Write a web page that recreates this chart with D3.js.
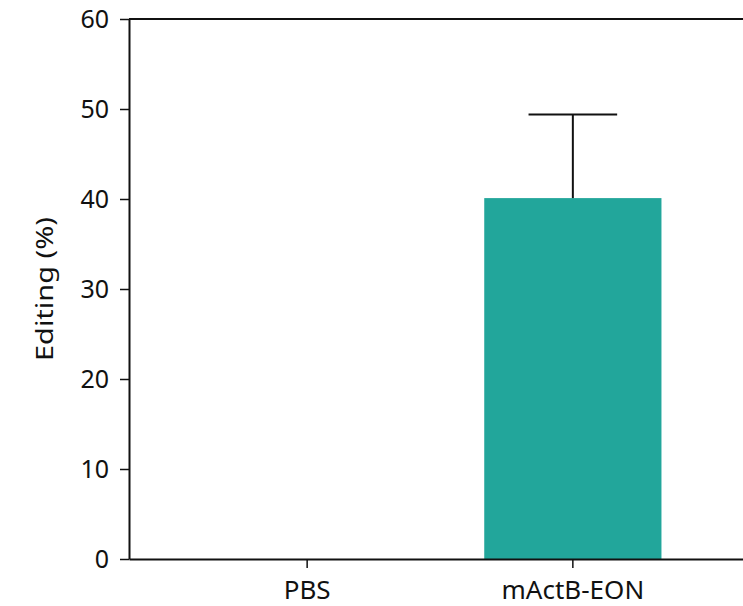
<!DOCTYPE html>
<html>
<head>
<meta charset="utf-8">
<script src="https://cdn.jsdelivr.net/npm/d3@7"></script>
<style>
  body { margin: 0; background: #fff; }
  svg text { font-family: "Noto Sans", "Open Sans", sans-serif; fill: #111; }
</style>
</head>
<body>
<div id="chart"></div>
<script>
var categories = ["PBS", "mActB-EON"];
var means = [0, 40.1];
var errors = [0, 9.3];
var yTicks = [0, 10, 20, 30, 40, 50, 60];

var width = 743, height = 606;
var plotLeft = 129, plotTop = 19, plotBottom = 559, plotRight = 751;

var svg = d3.select("#chart")
  .append("svg")
    .attr("width", width)
    .attr("height", height);

var x = d3.scaleBand()
  .domain(categories)
  .range([plotLeft, plotRight])
  .paddingInner(0.333)
  .paddingOuter(0.337);

var y = d3.scaleLinear()
  .domain([0, 60])
  .range([plotBottom, plotTop]);

// bars
svg.selectAll("rect.bar")
  .data(categories)
  .enter()
  .append("rect")
    .attr("class", "bar")
    .attr("x", function(d) { return x(d); })
    .attr("y", function(d, i) { return y(means[i]); })
    .attr("width", x.bandwidth())
    .attr("height", function(d, i) { return y(0) - y(means[i]); })
    .attr("fill", "#22a69b");

// error bars (upper only)
var err = svg.selectAll("g.err")
  .data(categories.filter(function(d, i) { return errors[i] > 0; }))
  .enter()
  .append("g")
    .attr("class", "err")
    .attr("stroke", "#111")
    .attr("stroke-width", 2);

err.append("line")
  .attr("x1", function(d) { return x(d) + x.bandwidth() / 2; })
  .attr("x2", function(d) { return x(d) + x.bandwidth() / 2; })
  .attr("y1", function(d) { var i = categories.indexOf(d); return y(means[i]); })
  .attr("y2", function(d) { var i = categories.indexOf(d); return y(means[i] + errors[i]); });

err.append("line")
  .attr("x1", function(d) { return x(d) + x.bandwidth() / 4; })
  .attr("x2", function(d) { return x(d) + x.bandwidth() * 3 / 4; })
  .attr("y1", function(d) { var i = categories.indexOf(d); return y(means[i] + errors[i]); })
  .attr("y2", function(d) { var i = categories.indexOf(d); return y(means[i] + errors[i]); });

// top frame line
svg.append("line")
  .attr("x1", plotLeft)
  .attr("x2", plotRight)
  .attr("y1", y(60))
  .attr("y2", y(60))
  .attr("stroke", "#111")
  .attr("stroke-width", 2);

// axes
var yAxis = svg.append("g")
  .attr("transform", "translate(" + plotLeft + ",0)")
  .call(d3.axisLeft(y).tickValues(yTicks).tickSize(9).tickSizeOuter(0).tickPadding(11));

var xAxis = svg.append("g")
  .attr("transform", "translate(0," + plotBottom + ")")
  .call(d3.axisBottom(x).tickSize(9).tickSizeOuter(0).tickPadding(13));

yAxis.attr("font-family", null).attr("font-size", 25);
xAxis.attr("font-family", null).attr("font-size", 26);

[yAxis, xAxis].forEach(function(a) {
  a.select(".domain").attr("stroke", "#111").attr("stroke-width", 2);
  a.selectAll(".tick line").attr("stroke", "#111").attr("stroke-width", 1.5);
  a.selectAll(".tick text").style("fill", "#111");
});

// y title
svg.append("text")
  .attr("transform", "translate(53," + ((plotTop + plotBottom) / 2) + ") rotate(-90) scale(1,0.82)")
  .attr("text-anchor", "middle")
  .attr("font-size", 29)
  .text("Editing (%)");
</script>
</body>
</html>
